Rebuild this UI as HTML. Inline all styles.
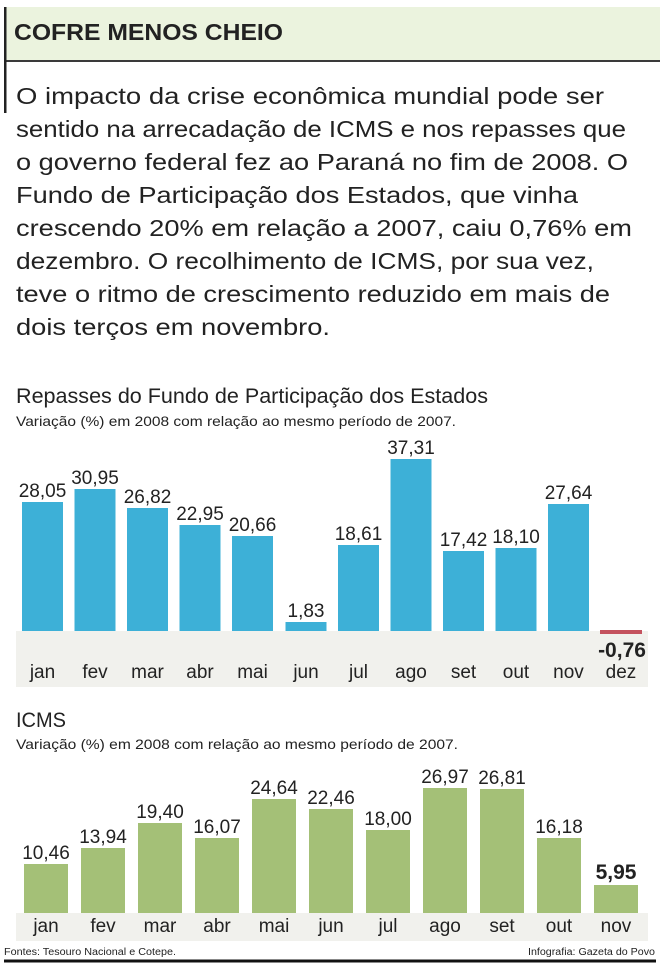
<!DOCTYPE html>
<html><head><meta charset="utf-8"><style>
html,body{margin:0;padding:0;background:#fff;}
svg{display:block;}
text{font-family:"Liberation Sans",sans-serif;fill:#222;}
</style></head><body>
<svg width="660" height="969" viewBox="0 0 660 969" xmlns="http://www.w3.org/2000/svg">
<rect x="6" y="7" width="654" height="54" fill="#ebf3de"/>
<rect x="6" y="60" width="654" height="2" fill="#3a3a3a"/>
<rect x="4" y="7" width="2.5" height="106" fill="#222"/>
<text x="14" y="40" font-size="23" font-weight="bold" textLength="269" lengthAdjust="spacingAndGlyphs">COFRE MENOS CHEIO</text>
<g font-size="23" fill="#333">
<text x="16" y="104" textLength="588" lengthAdjust="spacingAndGlyphs">O impacto da crise econômica mundial pode ser</text>
<text x="16" y="137" textLength="610" lengthAdjust="spacingAndGlyphs">sentido na arrecadação de ICMS e nos repasses que</text>
<text x="16" y="170" textLength="612" lengthAdjust="spacingAndGlyphs">o governo federal fez ao Paraná no fim de 2008. O</text>
<text x="16" y="203" textLength="562" lengthAdjust="spacingAndGlyphs">Fundo de Participação dos Estados, que vinha</text>
<text x="16" y="236" textLength="616" lengthAdjust="spacingAndGlyphs">crescendo 20% em relação a 2007, caiu 0,76% em</text>
<text x="16" y="269" textLength="578" lengthAdjust="spacingAndGlyphs">dezembro. O recolhimento de ICMS, por sua  vez,</text>
<text x="16" y="302" textLength="594" lengthAdjust="spacingAndGlyphs">teve o ritmo de crescimento reduzido em mais de</text>
<text x="16" y="335" textLength="314" lengthAdjust="spacingAndGlyphs">dois terços em novembro.</text>
</g>
<text x="16" y="403" font-size="21" textLength="472" lengthAdjust="spacingAndGlyphs">Repasses do Fundo de Participação dos Estados</text>
<text x="16" y="426" font-size="14" textLength="440" lengthAdjust="spacingAndGlyphs">Variação (%) em 2008 com relação ao mesmo período de 2007.</text>
<rect x="16" y="631" width="632" height="56" fill="#f1f1ed"/>
<g fill="#3db0d7">
<rect x="22" y="502" width="41" height="129"/>
<rect x="74.5" y="489" width="41" height="142"/>
<rect x="127" y="508" width="41" height="123"/>
<rect x="179.5" y="525" width="41" height="106"/>
<rect x="232" y="536" width="41" height="95"/>
<rect x="285.5" y="622" width="41" height="9"/>
<rect x="338" y="545" width="41" height="86"/>
<rect x="390.5" y="459" width="41" height="172"/>
<rect x="443" y="551" width="41" height="80"/>
<rect x="495.5" y="548" width="41" height="83"/>
<rect x="548" y="504" width="41" height="127"/>
</g>
<rect x="600" y="630" width="42" height="4" fill="#c4525e"/>
<g font-size="19" text-anchor="middle">
<text x="42.5" y="497">28,05</text>
<text x="95" y="484">30,95</text>
<text x="147.5" y="503">26,82</text>
<text x="200" y="520">22,95</text>
<text x="252.5" y="531">20,66</text>
<text x="306" y="617">1,83</text>
<text x="358.5" y="540">18,61</text>
<text x="411" y="454">37,31</text>
<text x="463.5" y="546">17,42</text>
<text x="516" y="543">18,10</text>
<text x="568.5" y="499">27,64</text>
<text x="622" y="657" font-weight="bold" font-size="21">-0,76</text>
</g>
<g font-size="19" text-anchor="middle">
<text x="42.5" y="678">jan</text><text x="95" y="678">fev</text><text x="147.5" y="678">mar</text>
<text x="200" y="678">abr</text><text x="252.5" y="678">mai</text><text x="306" y="678">jun</text>
<text x="358.5" y="678">jul</text><text x="411" y="678">ago</text><text x="463.5" y="678">set</text>
<text x="516" y="678">out</text><text x="568.5" y="678">nov</text><text x="621" y="678">dez</text>
</g>
<text x="16" y="727" font-size="21" textLength="50" lengthAdjust="spacingAndGlyphs">ICMS</text>
<text x="16" y="749" font-size="14" textLength="442" lengthAdjust="spacingAndGlyphs">Variação (%) em 2008 com relação ao mesmo período de 2007.</text>
<rect x="16" y="913" width="632" height="28" fill="#f1f1ed"/>
<g fill="#a4c077">
<rect x="24" y="864" width="44" height="49"/>
<rect x="81" y="848" width="44" height="65"/>
<rect x="138" y="823" width="44" height="90"/>
<rect x="195" y="838" width="44" height="75"/>
<rect x="252" y="799" width="44" height="114"/>
<rect x="309" y="809" width="44" height="104"/>
<rect x="366" y="830" width="44" height="83"/>
<rect x="423" y="788" width="44" height="125"/>
<rect x="480" y="789" width="44" height="124"/>
<rect x="537" y="838" width="44" height="75"/>
<rect x="594" y="885" width="44" height="28"/>
</g>
<g font-size="19" text-anchor="middle">
<text x="46" y="859">10,46</text>
<text x="103" y="843">13,94</text>
<text x="160" y="818">19,40</text>
<text x="217" y="833">16,07</text>
<text x="274" y="794">24,64</text>
<text x="331" y="804">22,46</text>
<text x="388" y="825">18,00</text>
<text x="445" y="783">26,97</text>
<text x="502" y="784">26,81</text>
<text x="559" y="833">16,18</text>
<text x="616" y="879" font-weight="bold" font-size="21">5,95</text>
</g>
<g font-size="19" text-anchor="middle">
<text x="46" y="932">jan</text><text x="103" y="932">fev</text><text x="160" y="932">mar</text>
<text x="217" y="932">abr</text><text x="274" y="932">mai</text><text x="331" y="932">jun</text>
<text x="388" y="932">jul</text><text x="445" y="932">ago</text><text x="502" y="932">set</text>
<text x="559" y="932">out</text><text x="616" y="932">nov</text>
</g>
<text x="4" y="955" font-size="10" textLength="172" lengthAdjust="spacingAndGlyphs">Fontes: Tesouro Nacional e Cotepe.</text>
<text x="655" y="955" font-size="10" text-anchor="end" textLength="127" lengthAdjust="spacingAndGlyphs">Infografia: Gazeta do Povo</text>
<rect x="4" y="959.5" width="652" height="3" fill="#111"/>
</svg>
</body></html>
